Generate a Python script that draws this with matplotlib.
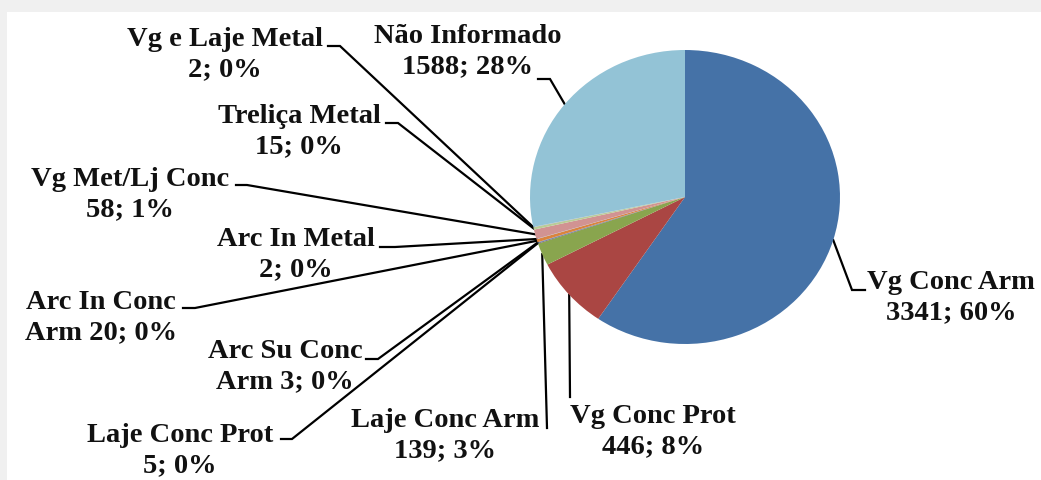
import numpy as np
import matplotlib.pyplot as plt
from matplotlib.patches import Rectangle

# structural system counts
categories = ["Vg Conc Arm", "Vg Conc Prot", "Laje Conc Arm", "Laje Conc Prot",
              "Arc Su Conc Arm", "Arc In Conc Arm", "Arc In Metal", "Vg Met/Lj Conc",
              "Treliça Metal", "Vg e Laje Metal", "Não Informado"]
counts = [3341, 446, 139, 5, 3, 20, 2, 58, 15, 2, 1588]
label_texts = ["Vg Conc Arm\n3341; 60%", "Vg Conc Prot\n446; 8%", "Laje Conc Arm\n139; 3%",
               "Laje Conc Prot\n5; 0%", "Arc Su Conc\nArm 3; 0%", "Arc In Conc\nArm 20; 0%",
               "Arc In Metal\n2; 0%", "Vg Met/Lj Conc\n58; 1%", "Treliça Metal\n15; 0%",
               "Vg e Laje Metal\n2; 0%", "Não Informado\n1588; 28%"]
colors = ["#4572A7", "#AA4643", "#89A54E", "#71588F", "#4198AF", "#DB843D",
          "#93A9CF", "#D19392", "#B9CD96", "#A99BBD", "#93C3D6"]

W, H = 1041, 480
# pie centre and radii in pixels
CX, CY, RX, RY = 685, 197, 155, 147

# label block centres (px) and leader elbow paths (px), leader ends at slice
label_pos = [(951, 298), (653, 432), (445, 436), (180, 451), (285, 367), (101, 318),
             (296, 255), (130, 195), (299, 132), (225, 55), (468, 52)]
elbows = [
    [(865, 290), (852, 290)],
    [(570, 397)],
    [(547, 428)],
    [(281, 439), (292, 439)],
    [(366, 359), (378, 359)],
    [(183, 308), (195, 308)],
    [(380, 247), (395, 247)],
    [(236, 185), (247, 185)],
    [(386, 123), (398, 123)],
    [(328, 46), (340, 46)],
    [(538, 79), (550, 79)],
]

fig = plt.figure(figsize=(W / 100, H / 100), dpi=100)
fig.patch.set_facecolor("#f0f0f0")

# overlay axes in pixel coordinates
ax = fig.add_axes([0, 0, 1, 1])
ax.set_xlim(0, W)
ax.set_ylim(H, 0)
ax.axis("off")
ax.add_patch(Rectangle((7, 12), W - 7, H - 12, facecolor="white", edgecolor="none", zorder=0))

# pie axes sized to the pie box
pax = fig.add_axes([(CX - RX) / W, (H - CY - RY) / H, 2 * RX / W, 2 * RY / H])
wedges, _ = pax.pie(counts, colors=colors, startangle=90, counterclock=False,
                    radius=1, wedgeprops=dict(linewidth=0))
pax.set_aspect("auto")
pax.set_xlim(-1, 1)
pax.set_ylim(-1, 1)
pax.axis("off")

font = dict(family="Liberation Serif", weight="bold", size=20.5, color="#111111")

total = sum(counts)
start = 90.0
for i, c in enumerate(counts):
    span = 360.0 * c / total
    mid = np.deg2rad(start - span / 2)
    start -= span
    anchor = (CX + RX * np.cos(mid), CY - RY * np.sin(mid))
    pts = elbows[i] + [anchor]
    xs, ys = zip(*pts)
    ax.plot(xs, ys, color="black", lw=1.6, solid_joinstyle="miter", zorder=3)
    ax.text(label_pos[i][0], label_pos[i][1], label_texts[i], ha="center", va="center",
            multialignment="center", linespacing=1.28, **font)

fig.savefig("out.png", dpi=100, facecolor=fig.get_facecolor())
